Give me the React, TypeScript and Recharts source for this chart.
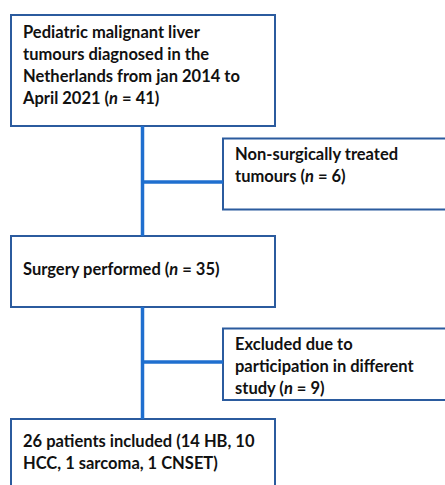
import React from 'react';
import { ComposedChart, XAxis, YAxis, ReferenceArea, ReferenceLine, Scatter } from 'recharts';

// flow steps (main column) and exclusions (side column)
const mainLines = [
    ['Pediatric malignant liver', 'tumours diagnosed in the', 'Netherlands from jan 2014 to', 'April 2021'],
    ['Surgery performed'],
    ['26 patients included (14 HB, 10', 'HCC, 1 sarcoma, 1 CNSET)'],
];
const mainCounts = [41, 35, null];
const sideLines = [
    ['Non-surgically treated', 'tumours'],
    ['Excluded due to', 'participation in different', 'study'],
];
const sideCounts = [6, 9];

// layout, in page pixels
const W = 445;
const H = 485;
const mainX = [11, 275];
const sideX = [223, 470];
const mainY = [[15, 126], [236, 307], [419, 510]];
const sideY = [[138.5, 209.5], [328.5, 400]];
const mainTextTop = [23, 39, 28];
const sideTextTop = [21.5, 21.5];
const spineX = 142.5;
const branchY = [182, 362];
const padX = 12;
const lineH = 22;

const boxStroke = '#2B5B9E';
const linkStroke = '#1F6FCF';

type Label = { x: number; y: number; lines: string[]; count: number | null };

const labels: Label[] = [
    ...mainLines.map((lines, i) => ({ x: mainX[0] + padX, y: mainY[i][0] + mainTextTop[i], lines, count: mainCounts[i] })),
    ...sideLines.map((lines, i) => ({ x: sideX[0] + padX, y: sideY[i][0] + sideTextTop[i], lines, count: sideCounts[i] })),
];

const BoxText = (props: any) => {
    const { cx, cy, payload } = props;
    const { lines, count } = payload as Label;
    return (
        <text x={cx} y={cy} fill="#111" fontFamily="Lato, Carlito, Calibri, sans-serif" fontWeight={700} fontSize={16.5}>
            {lines.map((ln, i) => {
                const last = i === lines.length - 1;
                return (
                    <tspan key={i} x={cx} dy={i === 0 ? 0 : lineH}>
                        {ln}
                        {last && count != null && (
                            <>
                                {' ('}
                                <tspan fontStyle="italic">n</tspan>
                                {` = ${count})`}
                            </>
                        )}
                    </tspan>
                );
            })}
        </text>
    );
};

export default function App() {
    return (
        <div style={{ position: 'absolute', left: 0, top: 0, width: W, height: H, background: '#fff' }}>
            <ComposedChart width={W} height={H} margin={{ top: 0, right: 0, bottom: 0, left: 0 }} data={labels}>
                <XAxis type="number" dataKey="x" domain={[0, W]} hide allowDataOverflow />
                <YAxis type="number" dataKey="y" domain={[0, H]} reversed hide allowDataOverflow />

                {/* spine between main boxes */}
                {mainY.slice(1).map((yy, i) => (
                    <ReferenceLine
                        key={`spine-${i}`}
                        segment={[{ x: spineX, y: mainY[i][1] }, { x: spineX, y: yy[0] }]}
                        stroke={linkStroke}
                        strokeWidth={3.5}
                        ifOverflow="visible"
                    />
                ))}
                {/* branches to exclusion boxes */}
                {branchY.map((by, i) => (
                    <ReferenceLine
                        key={`branch-${i}`}
                        segment={[{ x: spineX, y: by }, { x: sideX[0], y: by }]}
                        stroke={linkStroke}
                        strokeWidth={3.5}
                        ifOverflow="visible"
                    />
                ))}

                {mainY.map(([y1, y2], i) => (
                    <ReferenceArea
                        key={`main-${i}`}
                        x1={mainX[0]}
                        x2={mainX[1]}
                        y1={y1}
                        y2={y2}
                        fill="#fff"
                        fillOpacity={0}
                        stroke={boxStroke}
                        strokeWidth={2}
                        ifOverflow="hidden"
                    />
                ))}
                {sideY.map(([y1, y2], i) => (
                    <ReferenceArea
                        key={`side-${i}`}
                        x1={sideX[0]}
                        x2={sideX[1]}
                        y1={y1}
                        y2={y2}
                        fill="#fff"
                        fillOpacity={0}
                        stroke={boxStroke}
                        strokeWidth={2}
                        ifOverflow="hidden"
                    />
                ))}

                <Scatter dataKey="y" shape={BoxText} isAnimationActive={false} />
            </ComposedChart>
        </div>
    );
}
